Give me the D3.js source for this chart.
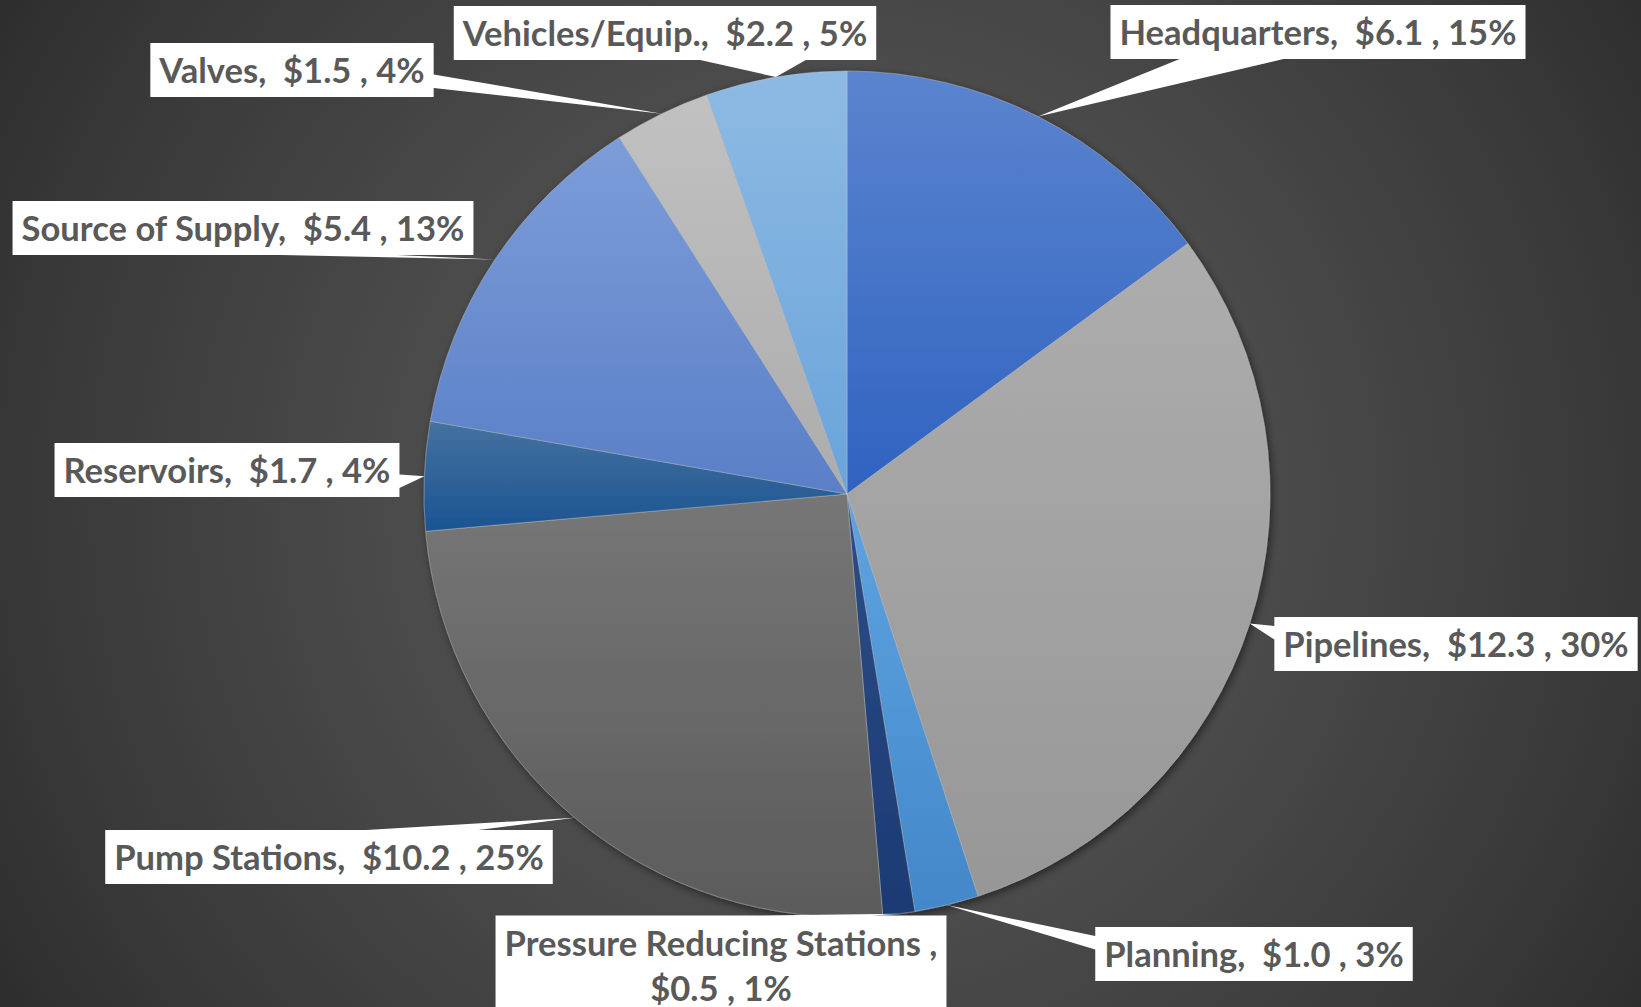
<!DOCTYPE html>
<html>
<head>
<meta charset="utf-8">
<script src="https://cdn.jsdelivr.net/npm/d3@7/dist/d3.min.js"></script>
<style>
  html, body { margin: 0; padding: 0; background: #3c3c3c; }
  svg { display: block; }
  .label text {
    font-family: Lato, "Open Sans", sans-serif;
    font-weight: 700;
    font-size: 34px;
    fill: #595959;
    white-space: pre;
  }
</style>
</head>
<body>
<div id="chart"></div>
<script>
const categories = ["Headquarters", "Pipelines", "Planning", "Pressure Reducing Stations",
  "Pump Stations", "Reservoirs", "Source of Supply", "Valves", "Vehicles/Equip."]
const amounts = [6.1, 12.3, 1.0, 0.5, 10.2, 1.7, 5.4, 1.5, 2.2]
const percents = ["15%", "30%", "3%", "1%", "25%", "4%", "13%", "4%", "5%"]

const colorsTop = ["#5b84ce", "#adadad", "#5fa4e0", "#2c4d87", "#767676", "#46729f", "#7c9dd9", "#c1c1c1", "#8dbae3"]
const colorsBottom = ["#2f63c1", "#979797", "#4387ca", "#1c3a73", "#5b5b5b", "#1a5492", "#5a7fc7", "#acacac", "#69a4da"]

// centre of each label box (x, y)
const labelPos = [[1318, 32], [1456, 644], [1254, 954], [721, 965], [329, 857],
  [227, 470], [243, 228], [292, 70], [665, 33]]

const width = 1641
const height = 1007
const cx = 847
const cy = 494
const radius = 423
const boxH = 54
const lineH = 45
const pad = 9
const hqTextWidth = 397

const data = categories.map((c, i) => ({
  category: c,
  amount: amounts[i],
  pct: percents[i],
  top: colorsTop[i],
  bottom: colorsBottom[i],
  pos: labelPos[i]
}))

function labelLines(d) {
  const val = "$" + d.amount.toFixed(1) + " , " + d.pct
  if (d.category.length > 20) return [d.category + " ,", val]
  return [d.category + ",  " + val]
}

// Office style wedgeRectCallout outline
function callout(bx, by, bw, bh, tx, ty) {
  const dx = tx - (bx + bw / 2)
  const dy = ty - (by + bh / 2)
  const dz = Math.abs(dy) - Math.abs(dx * bh / bw)
  const x1 = bx + bw * (dx > 0 ? 7 : 2) / 12
  const x2 = bx + bw * (dx > 0 ? 10 : 5) / 12
  const y1 = by + bh * (dy > 0 ? 7 : 2) / 12
  const y2 = by + bh * (dy > 0 ? 10 : 5) / 12
  const pts = [[bx, by]]
  if (dz > 0 && dy < 0) pts.push([x1, by], [tx, ty], [x2, by])
  pts.push([bx + bw, by])
  if (dz <= 0 && dx > 0) pts.push([bx + bw, y1], [tx, ty], [bx + bw, y2])
  pts.push([bx + bw, by + bh])
  if (dz > 0 && dy > 0) pts.push([x2, by + bh], [tx, ty], [x1, by + bh])
  pts.push([bx, by + bh])
  if (dz <= 0 && dx < 0) pts.push([bx, y2], [tx, ty], [bx, y1])
  return pts
}

const svg = d3.select("#chart").append("svg")
  .attr("width", width)
  .attr("height", height)

const defs = svg.append("defs")

const bg = defs.append("radialGradient")
  .attr("id", "bg")
  .attr("gradientUnits", "userSpaceOnUse")
  .attr("cx", 830).attr("cy", 500).attr("r", 960)
bg.append("stop").attr("offset", "0%").attr("stop-color", "#575757")
bg.append("stop").attr("offset", "45%").attr("stop-color", "#4b4b4b")
bg.append("stop").attr("offset", "82%").attr("stop-color", "#393939")
bg.append("stop").attr("offset", "100%").attr("stop-color", "#2e2e2e")

const shadow = defs.append("filter")
  .attr("id", "shadow")
  .attr("x", "-10%").attr("y", "-10%").attr("width", "120%").attr("height", "120%")
shadow.append("feDropShadow")
  .attr("dx", 2).attr("dy", 3).attr("stdDeviation", 4)
  .attr("flood-color", "#000").attr("flood-opacity", 0.5)

data.forEach((d, i) => {
  const g = defs.append("linearGradient")
    .attr("id", "slice" + i)
    .attr("x1", 0).attr("y1", 0).attr("x2", 0).attr("y2", 1)
  g.append("stop").attr("offset", "0%").attr("stop-color", d.top)
  g.append("stop").attr("offset", "100%").attr("stop-color", d.bottom)
})

svg.append("rect")
  .attr("width", width)
  .attr("height", height)
  .attr("fill", "url(#bg)")

const pie = d3.pie()
  .sort(null)
  .value(d => d.amount)

const arc = d3.arc()
  .innerRadius(0)
  .outerRadius(radius)

const edgeArc = d3.arc()
  .innerRadius(radius)
  .outerRadius(radius)

const arcs = pie(data)

const pieG = svg.append("g")
  .attr("transform", "translate(" + cx + "," + cy + ")")

pieG.append("g")
  .attr("filter", "url(#shadow)")
  .selectAll("path")
  .data(arcs)
  .join("path")
  .attr("d", arc)
  .attr("fill", (d, i) => "url(#slice" + i + ")")
  .attr("stroke", "rgba(200,200,200,0.5)")
  .attr("stroke-width", 0.8)

// labels with callouts
const labels = svg.append("g")
  .attr("class", "label")

let squeeze = 1

arcs.forEach((a, i) => {
  const d = a.data
  const lines = labelLines(d)
  const g = labels.append("g")
  const poly = g.append("path").attr("fill", "#fff")
  const texts = lines.map(t => g.append("text").text(t))
  const natural = texts.map(t => t.node().getComputedTextLength())
  if (i === 0) squeeze = hqTextWidth / natural[0]
  const widths = natural.map(w => w * squeeze)
  const bw = d3.max(widths) + pad * 2
  const bh = boxH + (lines.length - 1) * lineH
  const bx = d.pos[0] - bw / 2
  const by = d.pos[1] - bh / 2
  const tip = edgeArc.centroid(a)
  const pts = callout(bx, by, bw, bh, tip[0] + cx, tip[1] + cy)
  poly.attr("d", "M" + pts.map(p => p.join(",")).join("L") + "Z")
  texts.forEach((t, j) => {
    t.attr("x", d.pos[0])
      .attr("y", by + 40 + j * lineH)
      .attr("text-anchor", "middle")
      .attr("textLength", widths[j])
      .attr("lengthAdjust", "spacingAndGlyphs")
  })
})
</script>
</body>
</html>
